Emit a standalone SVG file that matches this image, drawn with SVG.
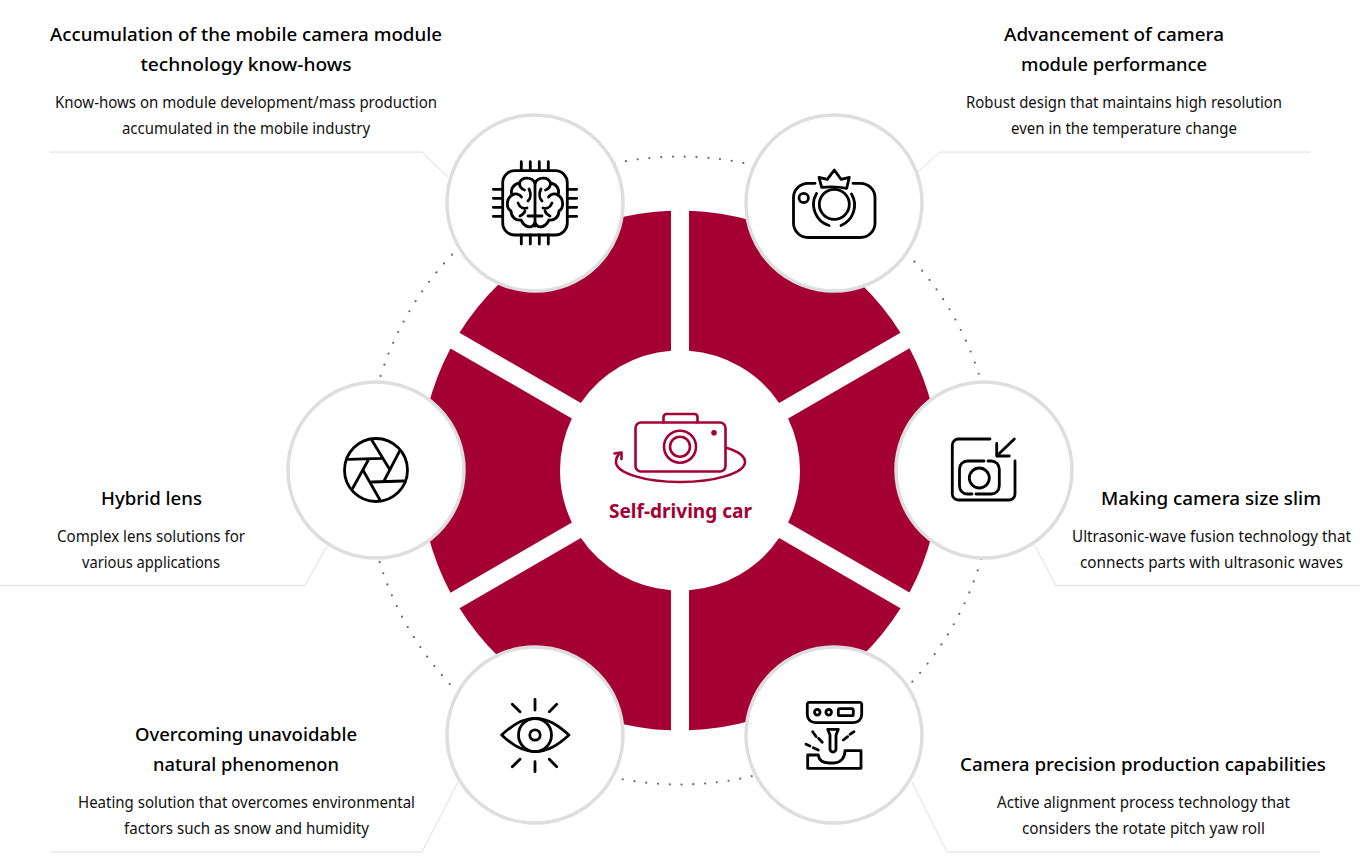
<svg xmlns="http://www.w3.org/2000/svg" xmlns:xlink="http://www.w3.org/1999/xlink" width="1360" height="856" viewBox="0 0 1360 856">
<style>
text{font-family:"Noto Sans","Open Sans","DejaVu Sans",sans-serif;text-anchor:middle}
.h{font-size:18.5px;font-weight:500;fill:#000}
.b{font-size:15.5px;font-weight:400;fill:#111}
.c{font-size:19px;font-weight:700;fill:#a50034}
.sat{fill:#fff;stroke:#dedede;stroke-width:3.5}
.lead{fill:none;stroke:#dedede;stroke-width:1}
.dots{fill:none;stroke:#666;stroke-width:2.2;stroke-linecap:round;stroke-dasharray:0 11.814;stroke-dashoffset:-7.1}
.i{fill:none;stroke:#000;stroke-width:2.8;stroke-linecap:round;stroke-linejoin:round}
.r{fill:none;stroke:#a50034;stroke-width:2.6;stroke-linecap:round;stroke-linejoin:round}
</style>
<defs>
<path id="seg" fill="#a50034" d="M9 -259.84A260 260 0 0 1 220.5 -137.7L99.13 -67.62A120 120 0 0 0 9 -119.66Z"/>
<g id="half">
<path class="i" d="M535 183C532 177 522 176 519.500 183C513 184 510 190 512 195C506 199 506 208 511 211C511 217 516 221 521 220C525 228 532 229 535 223"/>
<path class="i" d="M519.500 183C519.500 187 521.500 189 524.500 190M512 195C515.500 193 519.500 194 521.500 197M529 189C531 193 531 198 528 201M518 203C520 208 524 209 527 208M525 211C524 214 522 215 520 216"/>
</g>
</defs>
<rect width="1360" height="856" fill="#fff"/>
<g id="connectors">
<circle class="dots" cx="680" cy="470.500" r="314"/>
<path class="lead" d="M50 152H422L448 177"/>
<path class="lead" d="M1310 152H940L918 172"/>
<path class="lead" d="M0 585.500H305L327 546"/>
<path class="lead" d="M1360 585.500H1056L1035 546"/>
<path class="lead" d="M50 852H422L458 782"/>
<path class="lead" d="M1320 852H947L912 782"/>
</g>
<g id="ring" transform="translate(680 470.500)">
<use xlink:href="#seg" href="#seg"/>
<use xlink:href="#seg" href="#seg" transform="rotate(60)"/>
<use xlink:href="#seg" href="#seg" transform="rotate(120)"/>
<use xlink:href="#seg" href="#seg" transform="rotate(180)"/>
<use xlink:href="#seg" href="#seg" transform="rotate(240)"/>
<use xlink:href="#seg" href="#seg" transform="rotate(300)"/>
</g>
<g id="center">
<path class="r" d="M642 422.500H720a5.500 5.500 0 0 1 5.500 5.500V466a5.500 5.500 0 0 1 -5.500 5.500H641a5.500 5.500 0 0 1 -5.500 -5.500V428a5.500 5.500 0 0 1 5.500 -5.500Z"/>
<path class="r" d="M663.500 422.500V417a3 3 0 0 1 3 -3H694.500a3 3 0 0 1 3 3V422.500"/>
<circle class="r" cx="680" cy="446.700" r="16"/>
<circle class="r" cx="680" cy="446.700" r="10"/>
<circle cx="714" cy="432.700" r="2.800" fill="#a50034"/>
<path class="r" d="M727 448C740 452 745 457 745 462C745 473 715 482 680 482C645 482 616 473 616 462C616 458 618 455 620 453"/>
<path class="r" d="M614.500 453.500L621.500 452.500V459"/>
<text class="c" x="680.500" y="518" textLength="143" lengthAdjust="spacingAndGlyphs">Self-driving car</text>
</g>
<g id="node-brain">
<circle class="sat" cx="535" cy="203" r="88"/>
<rect class="i" x="502.700" y="170.700" width="64.600" height="64.300" rx="12"/>
<path class="i" d="M521.300 161.700V170.700M530.300 161.700V170.700M539.300 161.700V170.700M548.300 161.700V170.700M521.300 235V244M530.300 235V244M539.300 235V244M548.300 235V244M493.300 189.300H502.700M493.300 198.300H502.700M493.300 207.300H502.700M493.300 216.300H502.700M567.300 189.300H576.700M567.300 198.300H576.700M567.300 207.300H576.700M567.300 216.300H576.700"/>
<path class="i" d="M535 183V226M528 216H542"/>
<use xlink:href="#half" href="#half"/>
<use xlink:href="#half" href="#half" transform="translate(1070 0) scale(-1 1)"/>
<text class="h" x="246" y="41" textLength="392" lengthAdjust="spacingAndGlyphs">Accumulation of the mobile camera module</text>
<text class="h" x="246" y="71" textLength="211" lengthAdjust="spacingAndGlyphs">technology know-hows</text>
<text class="b" x="246" y="108" textLength="382" lengthAdjust="spacingAndGlyphs">Know-hows on module development/mass production</text>
<text class="b" x="246" y="134" textLength="248" lengthAdjust="spacingAndGlyphs">accumulated in the mobile industry</text>
</g>
<g id="node-crown">
<circle class="sat" cx="834" cy="203" r="88"/>
<path class="i" d="M815 183.300H808A14.500 14.500 0 0 0 793.500 197.800V223A14.500 14.500 0 0 0 808 237.500H860.500A14.500 14.500 0 0 0 875 223V197.800A14.500 14.500 0 0 0 860.500 183.300H853"/>
<circle class="i" cx="803.700" cy="198" r="4.700"/>
<circle class="i" cx="834.300" cy="204.300" r="15"/>
<path class="i" d="M816.500 193.500A22 22 0 0 0 829 225.500M851.500 194A22 22 0 0 1 841 225.500"/>
<path class="i" d="M819 177.300L827.300 179.300L834.300 170L841 179.300L849.300 177.300L846.700 188.300C838 186.500 830 186.500 821.700 187.300Z"/>
<text class="h" x="1114" y="41" textLength="220" lengthAdjust="spacingAndGlyphs">Advancement of camera</text>
<text class="h" x="1114" y="71" textLength="186" lengthAdjust="spacingAndGlyphs">module performance</text>
<text class="b" x="1124" y="108" textLength="316" lengthAdjust="spacingAndGlyphs">Robust design that maintains high resolution</text>
<text class="b" x="1124" y="134" textLength="226" lengthAdjust="spacingAndGlyphs">even in the temperature change</text>
</g>
<g id="node-aperture">
<circle class="sat" cx="376" cy="470" r="88"/>
<circle class="i" cx="376" cy="470" r="31.500"/>
<path class="i" d="M371.700 440L390 470M399.300 451.700L384 481M403.300 481L371.700 482M380 500L363.300 470.700M352.700 488.300L368.300 460M348.300 459.300L381.700 458.300"/>
<text class="h" x="151.500" y="505" textLength="101" lengthAdjust="spacingAndGlyphs">Hybrid lens</text>
<text class="b" x="151" y="542" textLength="188" lengthAdjust="spacingAndGlyphs">Complex lens solutions for</text>
<text class="b" x="151" y="568" textLength="138" lengthAdjust="spacingAndGlyphs">various applications</text>
</g>
<g id="node-slim">
<circle class="sat" cx="984" cy="470" r="88"/>
<path class="i" d="M990 439H958.500A6 6 0 0 0 952.300 445V494A6 6 0 0 0 958.500 500H1009A6 6 0 0 0 1015 494V461"/>
<path class="i" d="M984 461H967.500A8 8 0 0 0 959.500 469V486A8 8 0 0 0 967.500 494H972M976 494H991A8 8 0 0 0 999.300 486V469A8 8 0 0 0 991 461H988"/>
<circle class="i" cx="979.300" cy="478" r="10"/>
<path class="i" d="M1014.300 439L996.700 456M996.700 443.300V456H1009.300"/>
<text class="h" x="1211" y="505" textLength="220" lengthAdjust="spacingAndGlyphs">Making camera size slim</text>
<text class="b" x="1211.500" y="542" textLength="279" lengthAdjust="spacingAndGlyphs">Ultrasonic-wave fusion technology that</text>
<text class="b" x="1211.500" y="568" textLength="263" lengthAdjust="spacingAndGlyphs">connects parts with ultrasonic waves</text>
</g>
<g id="node-eye">
<circle class="sat" cx="535" cy="735" r="88"/>
<path class="i" d="M501.700 735C512 725 522 718.300 535 718.300C548 718.300 558 725 569 735C558 745 548 751.700 535 751.700C522 751.700 512 745 501.700 735Z"/>
<circle class="i" cx="535" cy="735" r="16.500"/>
<circle class="i" cx="535" cy="735" r="5.200"/>
<path class="i" d="M535 699.300V710M535 761.700V771.700M512.300 704.300L520 711.700M556.700 704.300L549.300 711.700M512.300 766.700L520 759.300M556.700 766.700L549.300 759.300"/>
<text class="h" x="246" y="741" textLength="222" lengthAdjust="spacingAndGlyphs">Overcoming unavoidable</text>
<text class="h" x="246" y="771" textLength="186" lengthAdjust="spacingAndGlyphs">natural phenomenon</text>
<text class="b" x="246.500" y="808" textLength="337" lengthAdjust="spacingAndGlyphs">Heating solution that overcomes environmental</text>
<text class="b" x="246.500" y="834" textLength="245" lengthAdjust="spacingAndGlyphs">factors such as snow and humidity</text>
</g>
<g id="node-production">
<circle class="sat" cx="834" cy="735" r="88"/>
<path class="i" d="M809.500 702.300H859.500A2 2 0 0 1 861.700 704.500V714.500A8 8 0 0 1 853.700 722.700H815.300A8 8 0 0 1 807.300 714.500V704.500A2 2 0 0 1 809.500 702.300Z"/>
<circle class="i" cx="817.300" cy="712.300" r="2.800"/>
<circle class="i" cx="828.700" cy="712.300" r="2.800"/>
<rect class="i" x="838.300" y="708.700" width="15" height="7" rx="1.500"/>
<path class="i" d="M827.700 729.300H838.300L836 735V749A3 3 0 0 1 830 749V735Z"/>
<path class="i" d="M812.700 731.700L816 736.500M818.500 738.300L822.300 742.300M806 744.300L810 746M813.300 747.700L818.300 750M854 731.700L850 734.300M847.700 736.700L843.300 740"/>
<path class="i" d="M807.700 768.300V755H818.300C819 760 823 763 829 763H834C840 763 845 758 845 750.700H861V768.300Z"/>
<text class="h" x="1143" y="771" textLength="366" lengthAdjust="spacingAndGlyphs">Camera precision production capabilities</text>
<text class="b" x="1143.500" y="808" textLength="293" lengthAdjust="spacingAndGlyphs">Active alignment process technology that</text>
<text class="b" x="1143.500" y="834" textLength="243" lengthAdjust="spacingAndGlyphs">considers the rotate pitch yaw roll</text>
</g>
</svg>
